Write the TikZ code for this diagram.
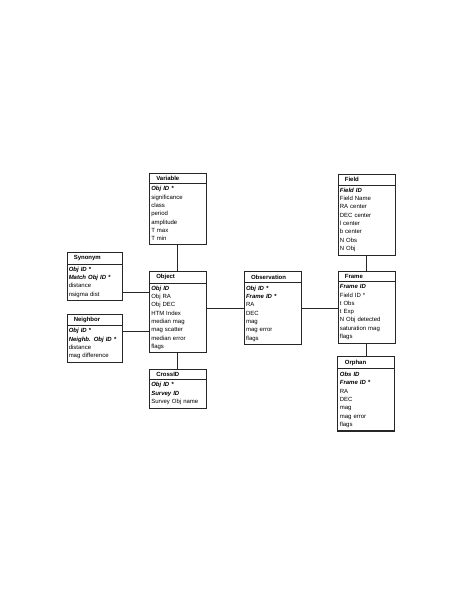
\documentclass[tikz,border=0pt]{standalone}
\usepackage{fontspec}
\setmainfont{Liberation Sans}
\usepackage{tikz}
\usetikzlibrary{positioning, shapes.multipart}

\newcommand{\keyf}[1]{\textbf{\textit{#1}}}
\newcommand{\ttl}[1]{\hspace*{5pt}\textbf{#1}}

\begin{document}
\begin{tikzpicture}[x=1pt, y=1pt, node distance=16pt and 36pt,
  entity/.style={draw=black!85, line width=0.5pt, rectangle split, rectangle split parts=2,
    text width=53pt, inner xsep=2pt, inner ysep=2.8pt, align=left,
    font=\fontsize{6}{8.3}\selectfont},
  keyent/.style={entity, line width=1.1pt},
  link/.style={black!85, line width=0.9pt},
]
  \useasboundingbox (0,0) rectangle (463,-599);

  \node[entity, anchor=north west] (obj) at (149,-271)
    {\ttl{Object}\nodepart{two}\keyf{Obj ID}\\ Obj RA\\ Obj DEC\\ HTM Index\\ median mag\\ mag scatter\\ median error\\ flags};
  \node[entity, above=27pt of obj] (var)
    {\ttl{Variable}\nodepart{two}\keyf{Obj ID *}\\ significance\\ class\\ period\\ amplitude\\ T max\\ T min};
  \node[entity, below=of obj] (xid)
    {\ttl{CrossID}\nodepart{two}\keyf{Obj ID *}\\ \keyf{Survey ID}\\ Survey Obj name};
  \node[entity, text width=51pt, left=27pt of obj.north west, anchor=north east, yshift=19pt] (syn)
    {\ttl{Synonym}\nodepart{two}\keyf{Obj ID *}\\ \keyf{Match Obj ID *}\\ distance\\ nsigma dist};
  \node[entity, text width=51pt, below=13pt of syn] (nbr)
    {\ttl{Neighbor}\nodepart{two}\keyf{Obj ID *}\\ \keyf{Neighb. Obj ID *}\\ distance\\ mag difference};

  \node[keyent, right=37pt of obj.north east, anchor=north west] (obs)
    {\ttl{Observation}\nodepart{two}\keyf{Obj ID *}\\ \keyf{Frame ID *}\\ RA\\ DEC\\ mag\\ mag error\\ flags};
  \node[entity, right=of obs.north east, anchor=north west] (frm)
    {\ttl{Frame}\nodepart{two}\keyf{Frame ID}\\ Field ID *\\ t Obs\\ t Exp\\ N Obj detected\\ saturation mag\\ flags};
  \node[entity, above=of frm] (fld)
    {\ttl{Field}\nodepart{two}\keyf{Field ID}\\ Field Name\\ RA center\\ DEC center\\ l center\\ b center\\ N Obs\\ N Obj};
  \node[keyent, below=13pt of frm] (orph)
    {\ttl{Orphan}\nodepart{two}\keyf{Obs ID}\\ \keyf{Frame ID *}\\ RA\\ DEC\\ mag\\ mag error\\ flags};

  \draw[link] (var) -- (obj);
  \draw[link] (obj) -- (xid);
  \draw[link] ([yshift=8pt]syn.south east) coordinate (s1) -- (s1 -| obj.west);
  \draw[link] ([yshift=-18pt]nbr.north east) coordinate (n1) -- (n1 -| obj.west);
  \draw[link] (obj.east |- obs.west) -- (obs.west);
  \draw[link] (obs.east) -- (obs.east -| frm.west);
  \draw[link] (fld) -- (frm);
  \draw[link] (frm) -- (orph);
\end{tikzpicture}
\end{document}
